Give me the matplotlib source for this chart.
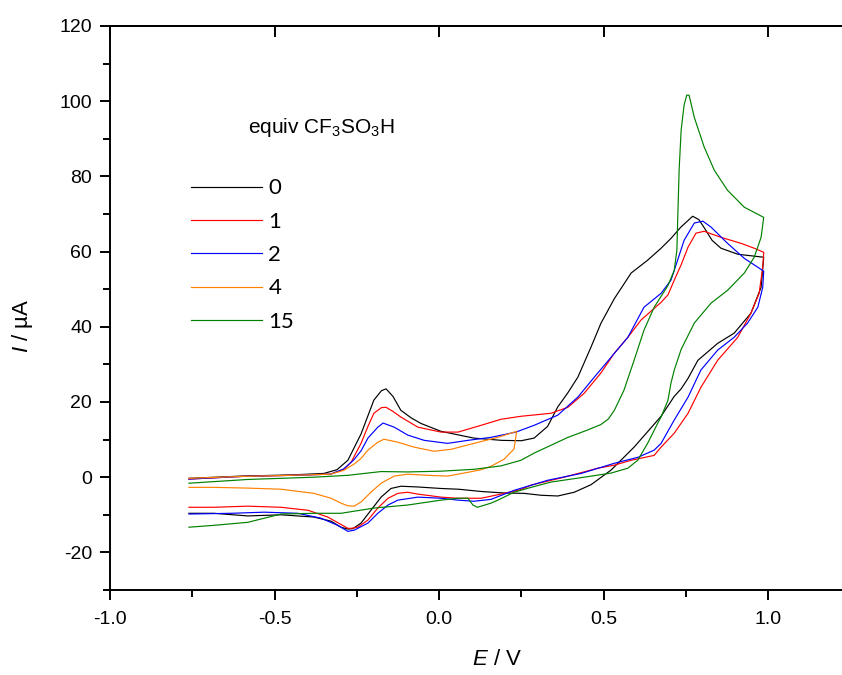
import numpy as np
import matplotlib
matplotlib.use('Agg')
import matplotlib.pyplot as plt

plt.rcParams['font.family'] = ['Liberation Sans', 'DejaVu Sans']
plt.rcParams['mathtext.fontset'] = 'custom'
plt.rcParams['mathtext.rm'] = 'Liberation Sans'
plt.rcParams['mathtext.it'] = 'Liberation Sans:italic'

# ---- data: (E / V, I / uA), anodic sweep then return sweep ----
E_0 = [-0.76, -0.6, -0.45, -0.35, -0.31, -0.277, -0.237, -0.198, -0.175, -0.161, -0.14, -0.116, -0.085, -0.055,
       0.006, 0.106, 0.19, 0.25, 0.289, 0.33, 0.361, 0.392, 0.422, 0.462, 0.492, 0.533, 0.584, 0.634, 0.675,
       0.705, 0.735, 0.771, 0.79, 0.805, 0.83, 0.857, 0.908, 0.987,
       0.979, 0.948, 0.897, 0.847, 0.787, 0.757, 0.736, 0.715, 0.675, 0.665, 0.593, 0.523, 0.462, 0.411,
       0.361, 0.31, 0.259, 0.198, 0.128, 0.06, 0.006, -0.064, -0.116, -0.146, -0.176, -0.207, -0.237, -0.262,
       -0.277, -0.298, -0.328, -0.38, -0.48, -0.581, -0.684, -0.76]
I_0 = [-0.3, 0.3, 0.6, 1.0, 2.0, 4.5, 11.5, 20.5, 23.0, 23.5, 21.5, 17.8, 15.8, 14.3,
       12.2, 10.4, 9.8, 9.7, 10.4, 13.5, 18.7, 22.5, 26.6, 34.6, 40.9, 47.5, 54.3, 57.7, 60.9,
       63.5, 66.5, 69.4, 68.5, 66.5, 63.0, 60.9, 59.3, 58.5,
       50.5, 43.6, 38.3, 35.6, 31.1, 26.3, 23.5, 21.5, 16.2, 15.2, 8.0, 1.9, -2.0, -4.0,
       -5.0, -4.8, -4.3, -4.2, -3.8, -3.2, -3.0, -2.6, -2.4, -3.0, -5.3, -8.8, -12.2, -13.7,
       -13.8, -13.3, -11.7, -10.6, -10.0, -10.3, -9.6, -9.6]

E_1 = [-0.76, -0.6, -0.45, -0.33, -0.29, -0.267, -0.237, -0.216, -0.198, -0.175, -0.161, -0.14, -0.116, -0.064,
       0.006, 0.058, 0.128, 0.188, 0.249, 0.34, 0.392, 0.441, 0.492, 0.533, 0.574, 0.614, 0.654, 0.675, 0.696,
       0.715, 0.736, 0.757, 0.781, 0.806, 0.857, 0.918, 0.958, 0.987,
       0.984, 0.973, 0.948, 0.908, 0.847, 0.796, 0.757, 0.715, 0.675, 0.654, 0.584, 0.533, 0.483, 0.38,
       0.28, 0.249, 0.188, 0.128, 0.058, 0.006, -0.064, -0.095, -0.125, -0.155, -0.186, -0.216, -0.247,
       -0.267, -0.277, -0.338, -0.398, -0.48, -0.581, -0.684, -0.76]
I_1 = [-0.5, 0.2, 0.5, 0.8, 2.0, 4.0, 9.0, 13.5, 17.0, 18.5, 18.6, 17.5, 16.0, 13.3,
       12.0, 12.0, 13.8, 15.4, 16.2, 17.0, 18.6, 22.3, 27.7, 33.0, 37.2, 41.8, 44.9, 46.5, 48.5,
       52.4, 56.5, 61.2, 64.9, 65.4, 63.8, 62.2, 60.9, 59.8,
       55.9, 48.9, 43.6, 37.2, 31.1, 23.9, 17.0, 11.7, 8.0, 5.8, 4.5, 3.2, 2.4, 0.0,
       -2.1, -3.3, -4.5, -5.6, -5.6, -5.3, -4.5, -4.0, -4.3, -5.6, -8.2, -11.4, -13.3,
       -13.6, -13.6, -10.6, -8.8, -8.0, -7.7, -8.0, -8.0]

E_2 = [-0.76, -0.6, -0.45, -0.33, -0.29, -0.26, -0.237, -0.216, -0.186, -0.17, -0.136, -0.095, -0.045,
       0.026, 0.088, 0.158, 0.234, 0.289, 0.361, 0.422, 0.472, 0.523, 0.574, 0.623, 0.675, 0.705, 0.715,
       0.745, 0.776, 0.802, 0.827, 0.877, 0.928, 0.987,
       0.984, 0.969, 0.938, 0.897, 0.847, 0.796, 0.757, 0.715, 0.675, 0.654, 0.605, 0.533, 0.432, 0.331,
       0.228, 0.158, 0.106, 0.058, 0.006, -0.064, -0.125, -0.155, -0.186, -0.216, -0.258, -0.277,
       -0.308, -0.359, -0.429, -0.531, -0.632, -0.76]
I_2 = [-0.5, 0.2, 0.5, 0.8, 2.2, 4.5, 7.0, 10.4, 13.3, 14.4, 13.3, 11.2, 9.8,
       9.0, 9.8, 10.6, 12.0, 13.8, 16.5, 21.3, 26.6, 31.9, 37.2, 45.2, 48.9, 52.4, 55.0,
       63.0, 67.6, 68.1, 66.5, 62.2, 58.2, 54.8,
       50.5, 45.2, 41.0, 37.2, 33.8, 28.5, 21.3, 15.2, 9.0, 7.2, 5.3, 3.7, 1.0, -0.8,
       -3.5, -5.9, -6.4, -6.1, -5.6, -5.3, -6.1, -7.4, -9.6, -12.2, -14.1, -14.4,
       -12.8, -10.9, -9.6, -9.3, -9.6, -9.8]

E_4 = [-0.76, -0.6, -0.45, -0.33, -0.29, -0.258, -0.237, -0.216, -0.186, -0.167, -0.125, -0.076, -0.015,
       0.036, 0.106, 0.179, 0.236,
       0.228, 0.198, 0.158, 0.128, 0.088, 0.026, -0.035, -0.095, -0.136, -0.176, -0.207, -0.237, -0.258,
       -0.277, -0.298, -0.328, -0.38, -0.48, -0.581, -0.684, -0.76]
I_4 = [-0.3, 0.2, 0.5, 0.8, 1.8, 3.5, 5.0, 7.2, 9.3, 10.1, 9.3, 8.0, 6.9,
       7.4, 9.0, 10.6, 12.2,
       7.5, 4.8, 2.9, 2.0, 1.3, 0.3, 0.5, 0.8, 0.3, -1.6, -4.0, -6.6, -7.7,
       -7.6, -6.9, -5.6, -4.3, -3.2, -2.9, -2.7, -2.7]

E_15 = [-0.76, -0.581, -0.38, -0.277, -0.237, -0.176, -0.095, 0.006, 0.106, 0.188, 0.249, 0.289, 0.392,
        0.45, 0.492, 0.515, 0.533, 0.562, 0.593, 0.623, 0.654, 0.696, 0.715, 0.723, 0.726, 0.73, 0.736,
        0.745, 0.753, 0.76, 0.776, 0.806, 0.837, 0.877, 0.928, 0.987,
        0.979, 0.958, 0.928, 0.877, 0.827, 0.776, 0.736, 0.715, 0.705, 0.696, 0.675, 0.665, 0.634, 0.604,
        0.574, 0.523, 0.441, 0.34, 0.28, 0.228, 0.179, 0.158, 0.117, 0.103, 0.088, 0.058, 0.006, -0.095,
        -0.197, -0.298, -0.38, -0.48, -0.531, -0.581, -0.684, -0.76]
I_15 = [-1.6, -0.6, 0.0, 0.5, 0.9, 1.5, 1.4, 1.6, 2.1, 3.0, 4.5, 6.4, 10.6,
        12.5, 14.0, 15.5, 17.8, 23.1, 31.1, 39.1, 45.2, 51.0, 55.0, 60.4, 70.0, 82.0, 92.3,
        99.0, 101.6, 101.6, 95.7, 87.8, 81.6, 76.3, 71.8, 69.1,
        63.8, 58.5, 54.3, 49.7, 46.3, 41.0, 34.0, 28.5, 25.0, 20.5, 16.0, 14.4, 9.0, 4.5,
        2.4, 1.1, 0.0, -1.3, -2.7, -4.0, -6.1, -6.9, -8.0, -7.4, -5.6, -5.6, -6.1, -7.4,
        -8.2, -9.6, -9.6, -9.8, -10.9, -12.0, -12.8, -13.3]

labels = ['0', '1', '2', '4', '15']
colors = ['black', '#ff0000', '#0000ff', '#ff8000', '#008000']
curves = [(E_0, I_0), (E_1, I_1), (E_2, I_2), (E_4, I_4), (E_15, I_15)]

fig = plt.figure(figsize=(8.42, 6.75), dpi=100)
ax = fig.add_axes([110/842, 85/675, 732/842, 564/675])

for (E, I), c, lab in zip(curves, colors, labels):
    ax.plot(E, I, color=c, lw=0.85, label=lab)

ax.set_xlim(-1.0, 1.2249)
ax.set_ylim(-30, 120)
ax.set_xticks([-1.0, -0.5, 0.0, 0.5, 1.0])
ax.set_xticklabels(['-1.0', '-0.5', '0.0', '0.5', '1.0'])
ax.set_xticks([-0.75, -0.25, 0.25, 0.75], minor=True)
ax.set_yticks(np.arange(-20, 121, 20))
ax.set_yticklabels(['-20', '0', '20', '40', '60', '80', '100', '120'])
ax.set_yticks(np.arange(-30, 121, 10), minor=True)

for s in ['left', 'bottom', 'top']:
    ax.spines[s].set_linewidth(1.4)
ax.spines['right'].set_visible(False)
ax.tick_params(axis='both', which='major', direction='out', length=7, width=1.4, labelsize=14)
ax.tick_params(axis='both', which='minor', direction='out', length=5, width=1.4)
ax.tick_params(axis='x', which='major', pad=8)
ax.tick_params(axis='y', which='major', pad=6)

# inward ticks on the top spine
top = ax.secondary_xaxis('top')
top.set_xticks([-1.0, -0.5, 0.0, 0.5, 1.0])
top.tick_params(direction='in', length=8, width=1.4, labelsize=0, labeltop=False)
top.set_xticklabels([])
top.spines['top'].set_linewidth(1.4)

ax.set_xlabel('$E$ / V', fontsize=16)
ax.set_ylabel('$I$ / µA', fontsize=16)
ax.xaxis.set_label_coords(0.529, -0.105)
ax.yaxis.set_label_coords(-0.102, 0.468)

ax.text(0.1885, 0.81, 'equiv CF$_3$SO$_3$H', transform=ax.transAxes, fontsize=15, va='baseline')
ax.legend(loc='upper left', bbox_to_anchor=(0.110, 0.730), frameon=False,
          prop={'family': 'Lato', 'size': 16}, handlelength=3.2, handletextpad=0.3,
          labelspacing=0.6, borderpad=0, borderaxespad=0)

fig.savefig('out.png', dpi=100)
